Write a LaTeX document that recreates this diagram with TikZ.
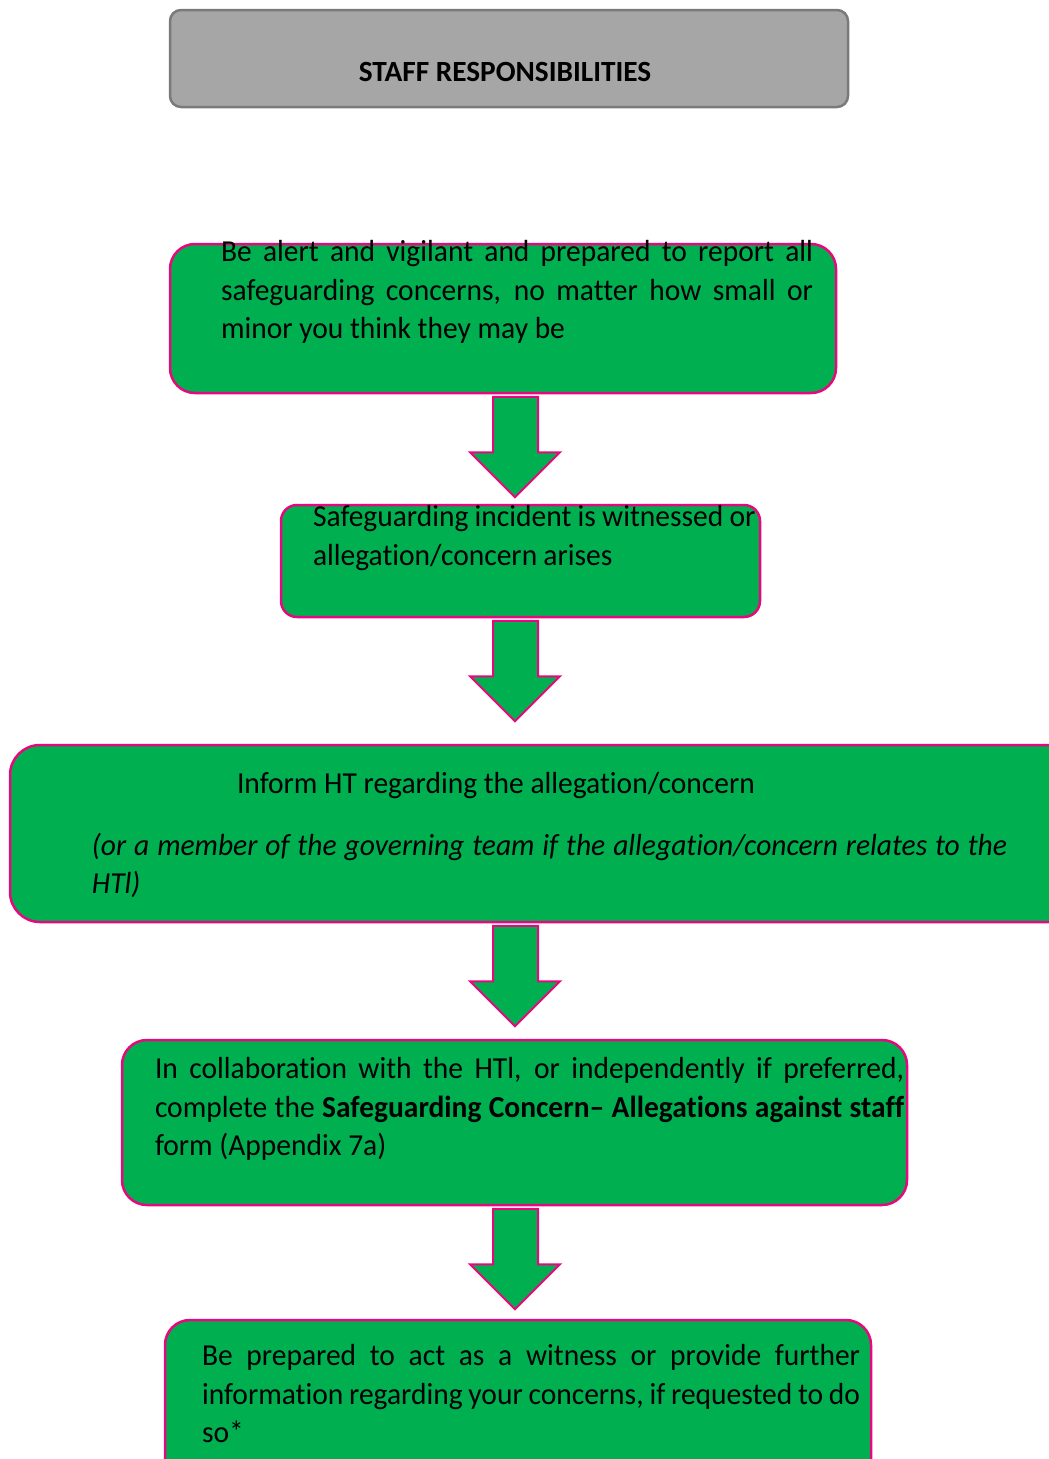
\documentclass[tikz,border=0pt]{standalone}
\usepackage{fontspec}
\setmainfont{Carlito}[Ligatures=NoCommon]
\newfontfamily\bodyfamily{Carlito}[Ligatures=NoCommon, FakeStretch=0.967]
\usetikzlibrary{calc}
\definecolor{boxgreen}{HTML}{00B050}
\definecolor{boxpink}{HTML}{E6087F}
\definecolor{titlefill}{HTML}{A6A6A6}
\definecolor{titleline}{HTML}{7A7A7A}
\newcommand\bodyfont{\bodyfamily\fontsize{30.5}{38.5}\selectfont}
\tikzset{
  greenbox/.style={draw=boxpink, fill=boxgreen, line width=2.5pt, rounded corners=25pt, inner sep=0pt},
  titlebox/.style={draw=titleline, fill=titlefill, line width=2.5pt, rounded corners=11pt, inner sep=0pt},
  bodytext/.style={anchor=north west, inner sep=0pt, outer sep=0pt, font=\bodyfont},
  blockarrow/.style={draw=boxpink, fill=boxgreen, line width=2pt, line join=miter},
}
\begin{document}
\begin{tikzpicture}[x=1pt,y=-1pt]
\useasboundingbox (0,0) rectangle (1049,1459);
\clip (0,0) rectangle (1049,1459);
% title
\node[titlebox, minimum width=678pt, minimum height=97pt] (title) at (509,58.5) {};
\node[inner sep=0pt, anchor=base, font=\fontsize{29.3}{35}\selectfont\bfseries] (titletext) at (505,81.5) {STAFF RESPONSIBILITIES};
% box 1
\node[greenbox, minimum width=666pt, minimum height=149pt] (b1) at (503,318.5) {};
\node[bodytext, text width=592pt, align=justify] (t1) at (221,235) {\strut Be alert and vigilant and prepared to report all\linebreak safeguarding concerns, no matter how small or\linebreak minor you think they may be};
% box 2
\node[greenbox, rounded corners=16pt, minimum width=479pt, minimum height=112pt] (b2) at (520.5,561) {};
\node[bodytext, text width=470pt, align=left] (t2) at (313,500) {\spaceskip=0.205em\relax\strut Safeguarding incident is witnessed or\\allegation/concern arises};
% box 3
\node[greenbox, rounded corners=30pt, minimum width=1080pt, minimum height=177pt] (b3) at (550,833.5) {};
\node[bodytext, text width=915pt, align=justify] (t3) at (92,767) {\strut\hspace*{145pt}Inform HT regarding the allegation/concern\par\vspace{23pt}\itshape (or a member of the governing team if the allegation/concern relates to the\linebreak HTl)};
% box 4
\node[greenbox, minimum width=785pt, minimum height=165pt] (b4) at (514.5,1122.5) {};
\node[bodytext, text width=749pt, align=justify] (t4) at (155,1052) {\strut In collaboration with the HTl, or independently if preferred,\linebreak complete the \textbf{Safeguarding Concern– Allegations against staff}\linebreak form (Appendix 7a)};
% box 5
\node[greenbox, minimum width=706pt, minimum height=170pt] (b5) at (518,1405) {};
\node[bodytext, text width=658pt, align=justify] (t5) at (202,1339) {\strut Be prepared to act as a witness or provide further\linebreak information regarding your concerns, if requested to do\linebreak so*};
% arrows from each box to the next
\foreach \a/\b in {b1/b2,b2/b3,b3/b4,b4/b5}{
  \draw[blockarrow] let \p1=($(\a.south)$) in
    (493pt,\y1-2.5pt) -- (538pt,\y1-2.5pt) -- (538pt,\y1-58pt) -- (560pt,\y1-58pt)
    -- (515pt,\y1-103pt)
    -- (470pt,\y1-58pt) -- (493pt,\y1-58pt) -- cycle;
}
\end{tikzpicture}
\end{document}
